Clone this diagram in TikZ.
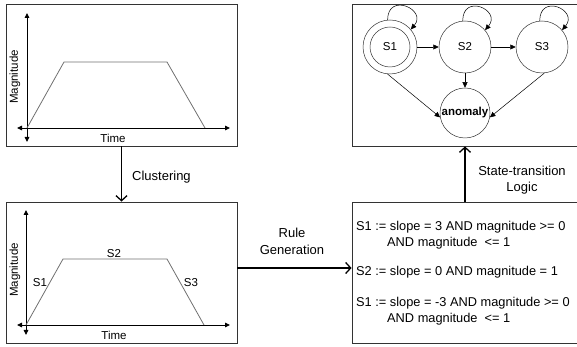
\documentclass[tikz,border=0pt]{standalone}
\usepackage{fontspec}
\setmainfont{Liberation Sans}
\usetikzlibrary{arrows.meta}
\definecolor{framegray}{HTML}{333333}
\definecolor{curvegray}{HTML}{707070}

\tikzset{
  panel/.style={draw=framegray, line width=0.9pt, minimum width=231pt, minimum height=142pt, inner sep=0pt},
  axis/.style={line width=0.9pt, {Triangle[length=5pt,width=4.5pt]}-{Triangle[length=5pt,width=4.5pt]}},
  trapez/.style={draw=curvegray, line width=0.8pt},
  state/.style={circle, draw=framegray, line width=0.5pt, minimum size=52pt, inner sep=0pt, font=\fontsize{11.5}{13}\selectfont},
  trans/.style={line width=0.5pt, -{Triangle[length=5.5pt,width=5pt]}},
  flow/.style={line width=1.3pt, -{Straight Barb[length=5pt,width=11pt]}},
  lbl/.style={font=\fontsize{11.5}{13}\selectfont, inner sep=0pt},
  caption/.style={font=\fontsize{13}{16.5}\selectfont, align=center, inner sep=0pt},
  rulebox/.style={font=\fontsize{12.8}{16}\selectfont, align=left, inner sep=0pt, anchor=west},
}

\begin{document}
\begin{tikzpicture}[x=1pt,y=1pt]
\useasboundingbox (0,0) rectangle (577,347);

% panels
\node[panel] (raw) at (121.5,272) {};
\node[panel, minimum height=141pt] (seg) at (121.5,74.5) {};
\node[panel, minimum width=228pt] (fsm) at (466,272) {};
\node[panel, minimum width=228pt, minimum height=141pt] (rules) at (466,74.5) {};

% raw signal
\draw[axis] (27,205) -- (27,334);
\draw[axis] (17,219) -- (230,219);
\draw[trapez] (27,219) -- (64,285) -- (167,285) -- (205,219);
\node[lbl] (rawtime) at (113,209) {Time};
\node[lbl, rotate=90] (rawmag) at (15,270) {Magnitude};

% clustered signal
\draw[axis] (26,12) -- (26,137);
\draw[axis] (17,22) -- (230,22);
\draw[trapez] (26,22) -- (63,88) -- (167,88) -- (204,22);
\node[lbl] (segs1) at (40,64) {S1};
\node[lbl] (segs2) at (114,93) {S2};
\node[lbl] (segs3) at (191,64) {S3};
\node[lbl] (segtime) at (114,12) {Time};
\node[lbl, rotate=90] (segmag) at (15,77) {Magnitude};

% state machine
\node[state, minimum size=54pt] (s1) at (390,300) {S1};
\draw[framegray, line width=0.5pt] (s1.center) circle (20pt);
\node[state] (s2) at (465,300) {S2};
\node[state] (s3) at (542,300) {S3};
\node[state, minimum size=50pt, font=\fontsize{11.5}{13}\selectfont\bfseries] (anomaly) at (465,234) {anomaly};

\draw[trans] (s1) -- (s2);
\draw[trans] (s2) -- (s3);
\draw[trans] (s2) -- (anomaly);
\draw[trans] (s1.265) -- (anomaly.190);
\draw[trans] (s3.275) -- (anomaly.350);
\foreach \s in {s1,s2,s3}
  \draw[trans] (\s.95) .. controls +(90:28) and +(50:26) .. (\s.40);

% rules
\node[rulebox] (rule1) at (356,112) {S1 := slope = 3 AND magnitude >= 0\\\hspace*{31pt}AND magnitude \ <= 1};
\node[rulebox] (rule2) at (356,75) {S2 := slope = 0 AND magnitude = 1};
\node[rulebox] (rule3) at (356,36) {S1 := slope = -3 AND magnitude >= 0\\\hspace*{31pt}AND magnitude \ <= 1};

% flow between panels
\draw[flow] (raw.south) -- (seg.north);
\node[caption, anchor=west] (clustering) at (132,170) {Clustering};
\draw[flow] ([yshift=4.5pt]seg.east) -- ([yshift=4.5pt]seg.east -| rules.west);
\node[caption] (rulegen) at (292,105.5) {Rule\\Generation};
\draw[flow] (anomaly |- rules.north) -- (anomaly |- fsm.south);
\node[caption] (logic) at (522,167) {State-transition\\Logic};
\end{tikzpicture}
\end{document}
